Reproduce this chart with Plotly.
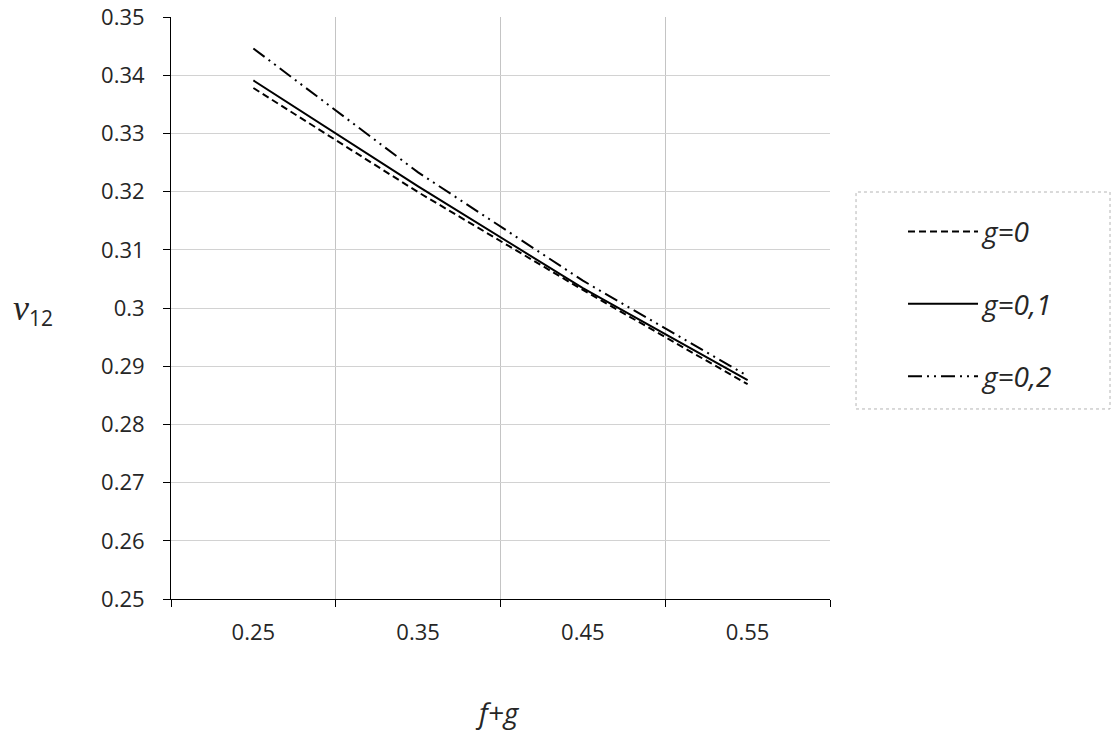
import plotly.graph_objects as go

# ---- data ----
fg = ["0.25", "0.35", "0.45", "0.55"]
v12_g0 = [0.3378, 0.3199, 0.3031, 0.2869]
v12_g01 = [0.3391, 0.3209, 0.3034, 0.2876]
v12_g02 = [0.3446, 0.3233, 0.3047, 0.2883]
series_names = ["g=0", "g=0,1", "g=0,2"]
y_ticks = [0.25, 0.26, 0.27, 0.28, 0.29, 0.30, 0.31, 0.32, 0.33, 0.34, 0.35]

dashes = ["7px,4px", "solid", "14px,5px,2px,5px,2px,5px"]
series = [v12_g0, v12_g01, v12_g02]

fig = go.Figure()
for i, (name, vals, d) in enumerate(zip(series_names, series, dashes)):
    fig.add_trace(go.Scatter(
        x=fg, y=vals, mode="lines", name=name,
        legendgroup=f"g{i}",
        line=dict(color="black", width=2, dash=d),
    ))

fig.update_layout(
    width=1113, height=738,
    margin=dict(l=171, r=283, t=17, b=139, autoexpand=False),
    paper_bgcolor="white", plot_bgcolor="white",
    font=dict(family="Open Sans", color="#262626", size=22),
    showlegend=True,
    legend=dict(
        x=1.1108, xanchor="left", y=0.674, yanchor="top",
        font=dict(family="Open Sans", size=28, color="#262626", style="italic"),
        itemwidth=70, tracegroupgap=33,
        bgcolor="rgba(0,0,0,0)", borderwidth=0,
    ),
    xaxis=dict(
        type="category", range=[-0.5, 3.5], tickson="boundaries",
        automargin=False,
        showgrid=True, gridcolor="#c4c4c4", gridwidth=1,
        showline=True, linecolor="black", linewidth=1,
        ticks="outside", ticklen=7, tickcolor="black",
        ticklabelstandoff=14,
        tickfont=dict(family="Open Sans", size=22, color="#262626"),
        zeroline=False,
    ),
    yaxis=dict(
        range=[0.25, 0.35], tickmode="array", tickvals=y_ticks,
        ticktext=[f"{v:g}" for v in y_ticks],
        automargin=False,
        showgrid=True, gridcolor="#d2d2d2", gridwidth=1,
        showline=True, linecolor="black", linewidth=1,
        ticks="outside", ticklen=7, tickcolor="black",
        ticklabelstandoff=14,
        tickfont=dict(family="Open Sans", size=22, color="#262626"),
        zeroline=False,
    ),
    shapes=[dict(
        type="rect", xref="paper", yref="paper",
        x0=1.0395, x1=1.4249, y0=0.3265, y1=0.6993,
        line=dict(color="#b4b4b4", width=1, dash="dot"),
        fillcolor="rgba(0,0,0,0)",
    )],
    annotations=[
        dict(text="<i>f+g</i>", xref="paper", yref="paper",
             x=0.495, y=-0.194, xanchor="center", yanchor="middle",
             showarrow=False,
             font=dict(family="Open Sans", size=28, color="#262626")),
        dict(text="<span style=\"font-family:'Liberation Serif';font-size:36px\"><i>v</i></span><sub>12</sub>",
             xref="paper", yref="paper",
             x=-0.209, y=0.497, xanchor="center", yanchor="middle",
             showarrow=False,
             font=dict(family="Open Sans", size=30, color="#262626")),
    ],
)

fig.write_html("out.html", config={"displayModeBar": False},
               post_script="document.body.style.margin='0';")
